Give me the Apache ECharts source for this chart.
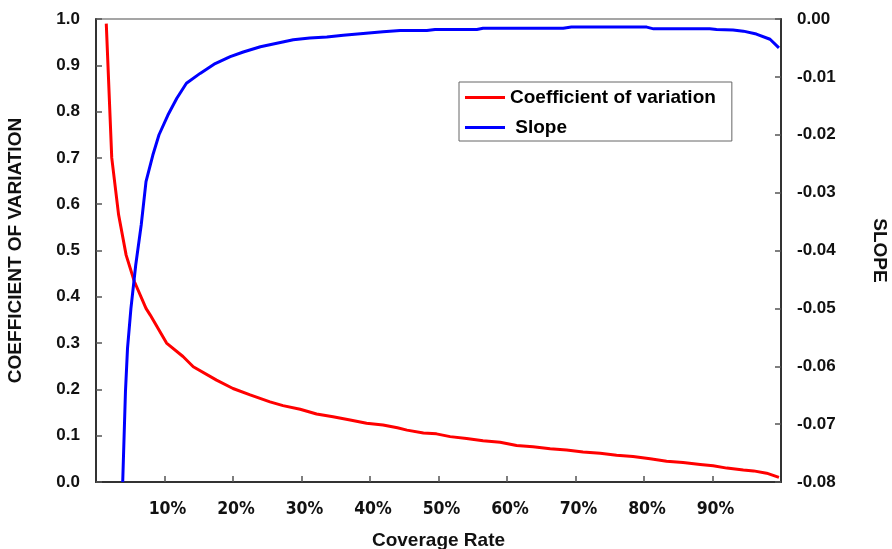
<!DOCTYPE html>
<html>
<head>
<meta charset="utf-8">
<script src="https://cdn.jsdelivr.net/npm/echarts@6/dist/echarts.min.js"></script>
<style>
html,body{margin:0;padding:0;background:#fff;}
#chart{width:892px;height:549px;}
</style>
</head>
<body>
<div id="chart"></div>
<script>
// Coverage rate (%) positions and values
var cvX = [1.5, 2.3, 3.3, 4.4, 5.6, 7.3, 7.9, 10.3, 12.7, 14.2, 17.6, 20.0, 22.5, 25.4, 27.3, 29.8, 32.2, 34.6, 37.1, 39.5, 41.9, 44.0, 45.4, 47.8, 49.7, 51.7, 54.1, 56.5, 59.0, 61.4, 63.8, 66.3, 68.7, 71.1, 73.6, 76.0, 78.4, 80.9, 83.3, 85.7, 88.2, 90.1, 92.1, 94.5, 96.0, 97.9, 99.7];
var cvValues = [0.99, 0.70, 0.577, 0.49, 0.433, 0.375, 0.361, 0.300, 0.271, 0.249, 0.220, 0.202, 0.188, 0.173, 0.165, 0.157, 0.147, 0.141, 0.134, 0.127, 0.123, 0.117, 0.112, 0.106, 0.104, 0.098, 0.094, 0.089, 0.086, 0.079, 0.076, 0.072, 0.069, 0.065, 0.062, 0.058, 0.055, 0.050, 0.045, 0.042, 0.038, 0.035, 0.030, 0.026, 0.024, 0.019, 0.010];

var slopeX = [3.9, 4.3, 4.6, 5.1, 5.8, 6.6, 7.3, 8.3, 9.2, 10.5, 11.8, 13.2, 15.2, 17.4, 19.6, 21.5, 24.0, 26.4, 28.8, 31.2, 33.7, 36.1, 39.0, 41.9, 44.4, 48.3, 49.5, 55.6, 56.5, 68.2, 69.4, 80.4, 81.4, 89.6, 90.6, 93.0, 94.5, 96.4, 98.4, 99.7];
var slopeValues = [-0.0800, -0.0644, -0.0569, -0.0500, -0.0425, -0.0356, -0.0281, -0.0235, -0.0200, -0.0166, -0.0137, -0.0111, -0.0094, -0.0077, -0.0065, -0.0057, -0.0048, -0.0042, -0.0036, -0.0033, -0.0031, -0.0028, -0.0025, -0.0022, -0.0020, -0.0020, -0.0018, -0.0018, -0.0016, -0.0016, -0.0014, -0.0014, -0.0017, -0.0017, -0.0018, -0.0019, -0.0021, -0.0026, -0.0035, -0.0050];

var seriesNames = ['Coefficient of variation', 'Slope'];
var xTitle = 'Coverage Rate';
var leftTitle = 'COEFFICIENT OF VARIATION';
var rightTitle = 'SLOPE';

function pairs(xs, ys) { return xs.map(function (x, i) { return [x, ys[i]]; }); }

var FONT = "'Liberation Sans', Arial, sans-serif";
var NARROW = "'Liberation Sans Narrow', 'Arial Narrow', 'DejaVu Sans Condensed', 'Roboto Condensed', 'Liberation Sans', Arial, sans-serif";
var axisLineStyle = { color: '#333', width: 2 };

var chart = echarts.init(document.getElementById('chart'), null, { renderer: 'canvas' });
chart.setOption({
  animation: false,
  backgroundColor: '#fff',
  grid: { left: 96, right: 111, top: 19, bottom: 67, show: true, borderColor: '#888', borderWidth: 1.5,
    containLabel: false, outerBoundsMode: 'none' },
  legend: {
    orient: 'vertical', left: 459, top: 82,
    padding: [6, 16, 4, 6], itemGap: 11, itemWidth: 40, itemHeight: 3, icon: 'rect',
    borderColor: '#666', borderWidth: 1, backgroundColor: '#fff',
    textStyle: { fontFamily: FONT, fontWeight: 'bold', fontSize: 19, color: '#000' },
    formatter: function (n) { return n === 'Slope' ? ' ' + n : n; },
    data: seriesNames
  },
  xAxis: {
    type: 'value', min: 0, max: 100, interval: 10,
    name: xTitle, nameLocation: 'middle', nameGap: 49,
    nameTextStyle: { fontFamily: FONT, fontWeight: 'bold', fontSize: 19, color: '#111' },
    splitLine: { show: false },
    axisLine: { show: true, lineStyle: axisLineStyle },
    axisTick: { show: true, inside: true, length: 6, lineStyle: { color: '#555', width: 1.5 } },
    axisLabel: {
      showMinLabel: false, showMaxLabel: false, margin: 18,
      fontFamily: NARROW, fontWeight: 'bold', fontSize: 17.5, color: '#111',
      padding: [0, 0, 0, 6],
      formatter: function (v) { return Math.round(v) + '%'; }
    }
  },
  yAxis: [{
    type: 'value', position: 'left', min: 0, max: 1, interval: 0.1,
    name: leftTitle, nameLocation: 'middle', nameGap: 71,
    nameTextStyle: { fontFamily: FONT, fontWeight: 'bold', fontSize: 19, color: '#111' },
    splitLine: { show: false },
    axisLine: { show: true, lineStyle: axisLineStyle },
    axisTick: { show: true, inside: true, length: 6, lineStyle: { color: '#555', width: 1.5 } },
    axisLabel: { margin: 16, fontFamily: FONT, fontWeight: 'bold', fontSize: 17, color: '#111',
      formatter: function (v) { return v.toFixed(1); } }
  }, {
    type: 'value', position: 'right', min: -0.08, max: 0, interval: 0.01,
    name: rightTitle, nameLocation: 'middle', nameGap: 89, nameRotate: -90,
    nameTextStyle: { fontFamily: FONT, fontWeight: 'bold', fontSize: 19, color: '#111' },
    splitLine: { show: false },
    axisLine: { show: true, lineStyle: axisLineStyle },
    axisTick: { show: true, inside: true, length: 6, lineStyle: { color: '#555', width: 1.5 } },
    axisLabel: { margin: 16, fontFamily: FONT, fontWeight: 'bold', fontSize: 17, color: '#111',
      formatter: function (v) { return Math.abs(v) < 1e-9 ? '0.00' : v.toFixed(2); } }
  }],
  series: [{
    name: seriesNames[0], type: 'line', yAxisIndex: 0, showSymbol: false, symbol: 'none',
    data: pairs(cvX, cvValues), lineStyle: { color: '#ff0000', width: 3 }, itemStyle: { color: '#ff0000' }
  }, {
    name: seriesNames[1], type: 'line', yAxisIndex: 1, showSymbol: false, symbol: 'none',
    data: pairs(slopeX, slopeValues), lineStyle: { color: '#0000ff', width: 3 }, itemStyle: { color: '#0000ff' }
  }]
});
</script>
</body>
</html>
